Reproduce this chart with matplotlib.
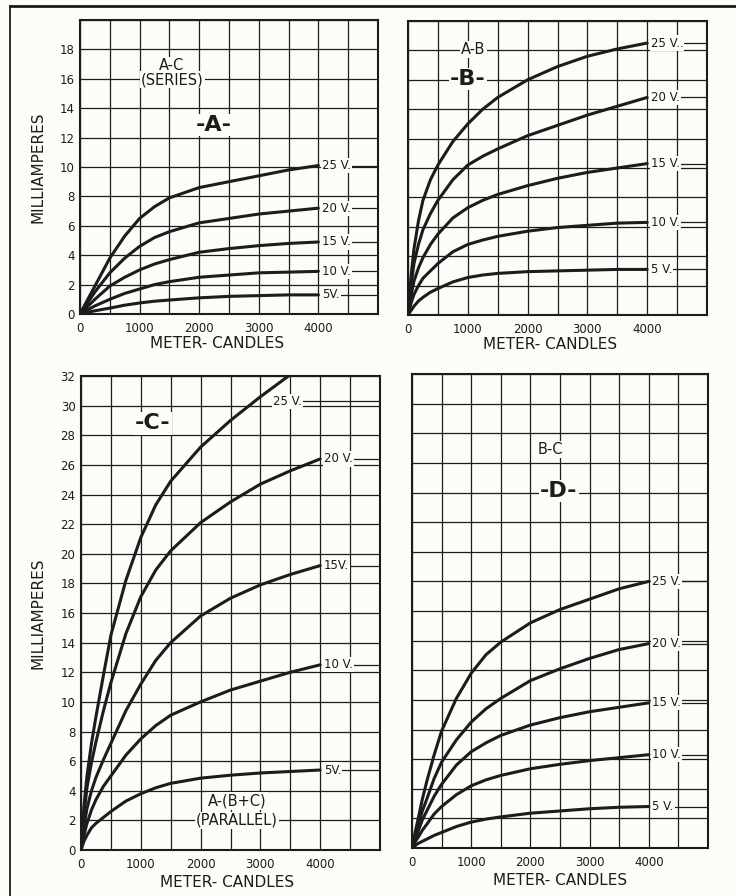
import matplotlib
matplotlib.use("Agg")
import matplotlib.pyplot as plt
from matplotlib.lines import Line2D
import numpy as np

# ---------------- data ----------------
volt_labels_a = ["5V.", "10 V.", "15 V.", "20 V.", "25 V."]
volt_labels_b = ["5 V.", "10 V.", "15 V.", "20 V.", "25 V.."]
volt_labels_c = ["5V.", "10 V.", "15V.", "20 V.", "25 V."]
volt_labels_d = ["5 V.", "10 V.", "15 V.", "20 V.", "25 V."]

# Panel A  (A-C series)
xa = [0, 250, 500, 750, 1000, 1250, 1500, 2000, 2500, 3000, 3500, 4000]
a_5v = [0, 0.22, 0.4, 0.6, 0.75, 0.87, 0.95, 1.1, 1.2, 1.25, 1.3, 1.3]
a_10v = [0, 0.55, 1.0, 1.4, 1.7, 2.0, 2.2, 2.5, 2.65, 2.8, 2.85, 2.9]
a_15v = [0, 1.0, 1.9, 2.5, 3.0, 3.4, 3.7, 4.2, 4.45, 4.65, 4.8, 4.9]
a_20v = [0, 1.5, 2.8, 3.8, 4.6, 5.2, 5.6, 6.2, 6.5, 6.8, 7.0, 7.2]
a_25v = [0, 1.9, 3.8, 5.3, 6.5, 7.3, 7.9, 8.6, 9.0, 9.4, 9.8, 10.1]

# Panel B  (A-B)
xb = [0, 50, 100, 175, 250, 375, 500, 750, 1000, 1250, 1500, 2000, 2500, 3000, 3500, 4000]
b_5v = [0, 0.3, 0.6, 0.95, 1.2, 1.55, 1.8, 2.25, 2.55, 2.72, 2.83, 2.95, 3.0, 3.05, 3.1, 3.1]
b_10v = [0, 0.8, 1.4, 2.0, 2.5, 3.0, 3.5, 4.3, 4.8, 5.1, 5.35, 5.7, 5.95, 6.1, 6.25, 6.3]
b_15v = [0, 1.3, 2.3, 3.2, 3.9, 4.8, 5.5, 6.6, 7.3, 7.8, 8.2, 8.8, 9.3, 9.7, 10.0, 10.3]
b_20v = [0, 2.0, 3.5, 4.8, 5.8, 6.9, 7.8, 9.2, 10.2, 10.8, 11.3, 12.2, 12.9, 13.6, 14.2, 14.8]
b_25v = [0, 2.6, 4.5, 6.4, 7.8, 9.2, 10.2, 11.8, 13.0, 14.0, 14.8, 16.0, 16.9, 17.6, 18.1, 18.5]

# Panel C  (A-(B+C) parallel)
xc = [0, 50, 100, 175, 250, 375, 500, 750, 1000, 1250, 1500, 2000, 2500, 3000, 3500, 4000]
xc_25 = [0, 50, 100, 175, 250, 375, 500, 750, 1000, 1250, 1500, 2000, 2500, 3000, 3470]
c_5v = [0, 0.6, 1.0, 1.5, 1.8, 2.2, 2.6, 3.3, 3.8, 4.2, 4.5, 4.85, 5.05, 5.2, 5.3, 5.4]
c_10v = [0, 1.0, 1.8, 2.7, 3.4, 4.3, 5.0, 6.4, 7.5, 8.4, 9.1, 10.0, 10.8, 11.4, 12.0, 12.5]
c_15v = [0, 1.6, 2.8, 4.0, 4.9, 6.1, 7.2, 9.4, 11.2, 12.8, 14.0, 15.8, 17.0, 17.9, 18.6, 19.2]
c_20v = [0, 2.4, 4.2, 5.9, 7.3, 9.4, 11.3, 14.6, 17.1, 18.9, 20.2, 22.1, 23.5, 24.7, 25.6, 26.4]
c_25v = [0, 3.0, 5.0, 7.2, 9.0, 11.8, 14.5, 18.2, 21.1, 23.3, 24.9, 27.2, 29.0, 30.6, 32.0]

# Panel D  (B-C)
xd = [0, 50, 100, 175, 250, 375, 500, 750, 1000, 1250, 1500, 2000, 2500, 3000, 3500, 4000]
d_5v = [0, 0.15, 0.3, 0.45, 0.6, 0.85, 1.05, 1.45, 1.75, 1.95, 2.1, 2.35, 2.5, 2.65, 2.75, 2.8]
d_10v = [0, 0.4, 0.7, 1.2, 1.6, 2.3, 2.8, 3.6, 4.2, 4.6, 4.9, 5.35, 5.65, 5.9, 6.1, 6.3]
d_15v = [0, 0.6, 1.1, 1.9, 2.5, 3.5, 4.3, 5.6, 6.5, 7.1, 7.6, 8.3, 8.8, 9.2, 9.5, 9.8]
d_20v = [0, 0.8, 1.5, 2.5, 3.3, 4.7, 5.8, 7.3, 8.5, 9.4, 10.1, 11.3, 12.1, 12.8, 13.4, 13.8]
d_25v = [0, 1.0, 1.9, 3.3, 4.5, 6.3, 7.9, 10.1, 11.8, 13.05, 13.9, 15.2, 16.1, 16.8, 17.5, 18.0]

x_ticks = [0, 1000, 2000, 3000, 4000]
y_ticks_top = [0, 2, 4, 6, 8, 10, 12, 14, 16, 18]
y_ticks_bottom = list(range(0, 33, 2))

# ---------------- style ----------------
BG = "#fcfcf9"
INK = "#1c1c1c"
plt.rcParams["font.family"] = ["DejaVu Sans"]

fig = plt.figure(figsize=(7.36, 8.96), dpi=100, facecolor=BG)
W, H = 736.0, 896.0


def make_ax(l, r, t, b):
    return fig.add_axes([l / W, 1 - b / H, (r - l) / W, (b - t) / H])


axA = make_ax(80, 378, 20, 314)
axB = make_ax(408, 707, 21, 315)
axC = make_ax(81, 380, 376, 850)
axD = make_ax(412, 708, 374, 848)

box = dict(facecolor=BG, edgecolor="none", pad=0.8)


def setup(ax, ymax, yticks, ylabels):
    ax.set_facecolor(BG)
    ax.set_xlim(0, 5000)
    ax.set_ylim(0, ymax)
    ax.set_xticks(x_ticks)
    ax.set_xticklabels([str(v) for v in x_ticks])
    ax.set_xticks(np.arange(0, 5001, 500), minor=True)
    ax.set_yticks(np.arange(0, ymax + 0.01, 2), minor=True)
    if ylabels:
        ax.set_yticks(yticks)
        ax.set_yticklabels([str(v) for v in yticks])
    else:
        ax.set_yticks([])
    ax.grid(True, which="both", color=INK, lw=0.9, zorder=1)
    ax.set_axisbelow(True)
    ax.tick_params(which="both", length=0, labelsize=8.5, colors=INK)
    ax.tick_params(axis="x", pad=6)
    ax.tick_params(axis="y", pad=4)
    for s in ax.spines.values():
        s.set_color(INK)
        s.set_linewidth(1.5)
    ax.set_xlabel("METER- CANDLES", fontsize=11, color=INK)
    ax.xaxis.label.set_verticalalignment("center")
    if ylabels:
        ax.set_ylabel("MILLIAMPERES", fontsize=11, color=INK)


def curves(ax, xs_list, ys_list, labels, label_pos):
    for xs, ys, lab, (lx, ly) in zip(xs_list, ys_list, labels, label_pos):
        ax.plot(xs, ys, color=INK, lw=2.2, solid_capstyle="round",
                solid_joinstyle="round", zorder=3)
        ax.plot([lx + 60, 5000], [ly, ly], color=INK, lw=0.9, zorder=2)
        ax.text(lx + 60, ly, lab, fontsize=8.5, color=INK, va="center", ha="left",
                bbox=box, zorder=4)


setup(axA, 20, y_ticks_top, True)
setup(axB, 20, y_ticks_top, False)
setup(axC, 32, y_ticks_bottom, True)
setup(axD, 32, y_ticks_bottom, False)

axA.yaxis.set_label_coords(-0.115, 0.5)
axC.yaxis.set_label_coords(-0.12, 0.5)
axA.xaxis.set_label_coords(0.46, -0.1)
axB.xaxis.set_label_coords(0.475, -0.1)
axC.xaxis.set_label_coords(0.49, -0.068)
axD.xaxis.set_label_coords(0.50, -0.068)

curves(axA, [xa] * 5, [a_5v, a_10v, a_15v, a_20v, a_25v], volt_labels_a,
       [(4000, v[-1]) for v in [a_5v, a_10v, a_15v, a_20v, a_25v]])
curves(axB, [xb] * 5, [b_5v, b_10v, b_15v, b_20v, b_25v], volt_labels_b,
       [(4000, v[-1]) for v in [b_5v, b_10v, b_15v, b_20v, b_25v]])
curves(axC, [xc, xc, xc, xc, xc_25], [c_5v, c_10v, c_15v, c_20v, c_25v], volt_labels_c,
       [(4000, c_5v[-1]), (4000, c_10v[-1]), (4000, c_15v[-1]), (4000, c_20v[-1]), (3150, 30.3)])
curves(axD, [xd] * 5, [d_5v, d_10v, d_15v, d_20v, d_25v], volt_labels_d,
       [(4000, v[-1]) for v in [d_5v, d_10v, d_15v, d_20v, d_25v]])

# panel annotations
small = dict(fontsize=10.5, ha="center", va="center", color=INK, bbox=box, zorder=4)
big = dict(fontsize=16, fontweight="bold", ha="center", va="center", color=INK, bbox=box, zorder=4)

axA.text(1530, 16.9, "A-C", **small)
axA.text(1550, 15.95, "(SERIES)", **small)
axA.text(2250, 12.85, "-A-", **big)

axB.text(1090, 18.05, "A-B", **small)
axB.text(1005, 16.05, "-B-", **big)

axC.text(1200, 28.8, "-C-", **big)
axC.text(2610, 3.3, "A-(B+C)", **small)
axC.text(2610, 2.0, "(PARALLEL)", **small)

axD.text(2340, 26.9, "B-C", **small)
axD.text(2480, 24.1, "-D-", **big)

# page frame
fig.add_artist(Line2D([10 / W, 1.0], [1 - 6 / H, 1 - 6 / H], transform=fig.transFigure, color=INK, lw=2))
fig.add_artist(Line2D([10 / W, 10 / W], [0.0, 1 - 6 / H], transform=fig.transFigure, color=INK, lw=1.3))

fig.savefig("out.png", dpi=100, facecolor=BG)
